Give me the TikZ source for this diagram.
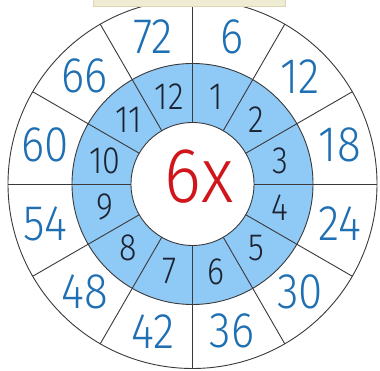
\documentclass[tikz,border=0pt]{standalone}
\usepackage{fontspec}
\setmainfont{Fira Sans Light}
\definecolor{ringblue}{HTML}{8FC9F6}
\definecolor{numblue}{HTML}{1F6FB3}
\definecolor{numdark}{HTML}{1C2330}
\definecolor{linegray}{HTML}{3A3A3A}
\definecolor{bannerfill}{HTML}{F0EBD3}
\definecolor{bannerline}{HTML}{DDD5B5}
\definecolor{sixred}{HTML}{D0161B}
\tikzset{
  sep/.style={draw=linegray, line width=0.9pt},
  outnum/.style={text=numblue, font=\fontsize{50}{50}\selectfont, inner sep=0pt, xscale=0.88},
  innum/.style={text=numdark, font=\fontsize{38}{38}\selectfont, inner sep=0pt, xscale=0.85},
  centre/.style={text=sixred, font=\fontsize{78}{78}\selectfont, inner sep=0pt, xscale=0.9}
}
\begin{document}
\begin{tikzpicture}[x=1pt,y=1pt]
\useasboundingbox (0,0) rectangle (380,371);
\coordinate (c) at (192.5,187);
\fill[white] (0,0) rectangle (380,371);
\filldraw[fill=white, sep] (c) circle (184.5);
\filldraw[fill=ringblue, sep] (c) circle (120.5);
\filldraw[fill=white, sep] (c) circle (61.5);
\foreach \i in {0,...,11}{
  \draw[sep] ([shift={(30*\i:61.5)}]c) -- ([shift={(30*\i:184.5)}]c);
}
\foreach \k in {1,...,12}{
  \pgfmathtruncatemacro{\v}{6*\k}
  \path (c) ++(105-30*\k:152.5) node[outnum] (o\k) {\v};
  \path (c) ++(105-30*\k:90.5) node[innum] (i\k) {\k};
}
\node[centre] (six) at (199,194) {6x};
\filldraw[fill=bannerfill, draw=bannerline, line width=0.6pt] (93,365) rectangle (285,373);
\end{tikzpicture}
\end{document}
